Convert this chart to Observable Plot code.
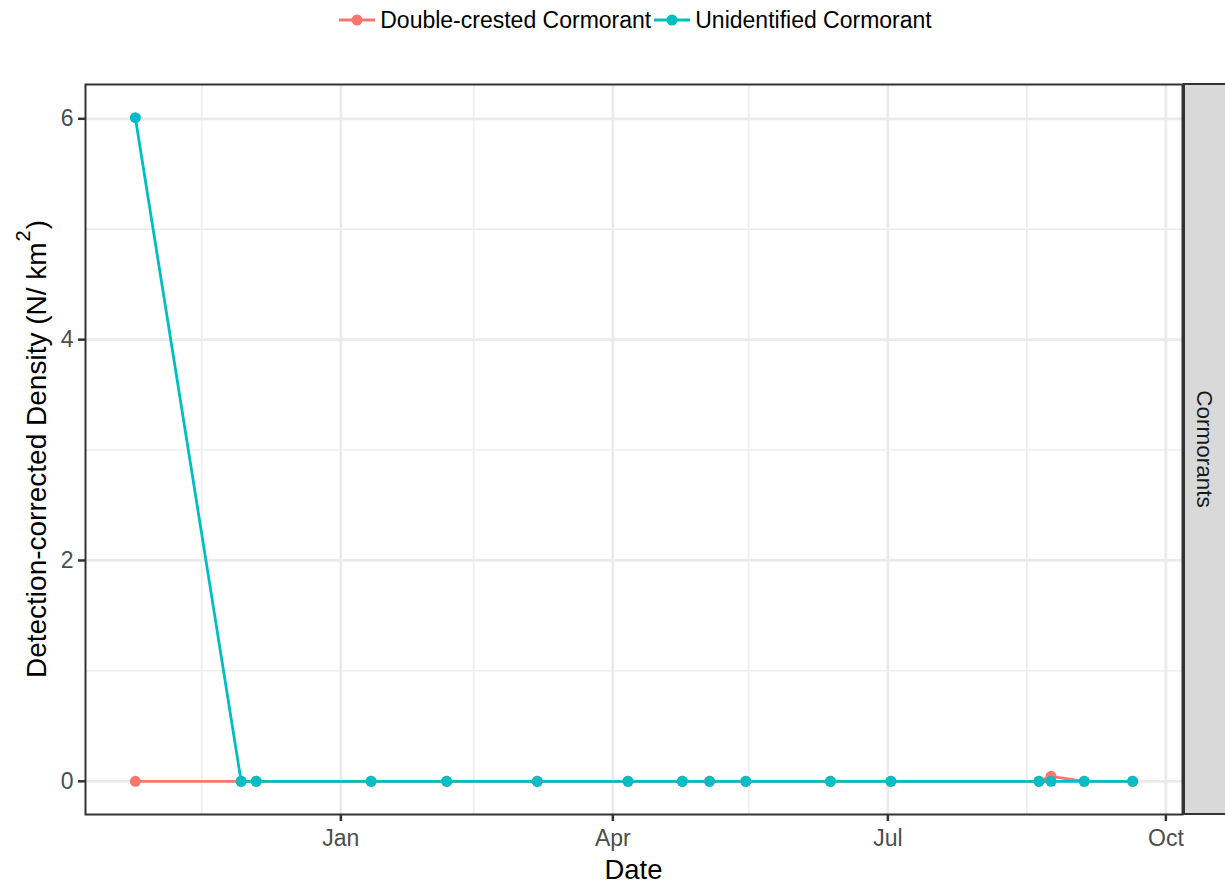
<!DOCTYPE html>
<html>
<head>
<meta charset="utf-8">
<script src="https://cdn.jsdelivr.net/npm/d3@7"></script>
<script src="https://cdn.jsdelivr.net/npm/@observablehq/plot@0.6"></script>
<style>
  body { margin: 0; background: #ffffff; font-family: "Liberation Sans", Arial, sans-serif; }
  #legend { height: 40px; display: flex; justify-content: center; align-items: center; font-size: 23px; color: #000; padding-left: 46px; }
  #legend .item { display: flex; align-items: center; }
  #legend .item svg { margin-right: 5px; }
  #legend .item + .item { margin-left: 3px; }
  #chart svg { display: block; font-family: "Liberation Sans", Arial, sans-serif; }
</style>
</head>
<body>
<div id="legend"></div>
<div id="chart"></div>
<script>
// ---- data ----
const dates = [
  "2014-10-25", "2014-11-29", "2014-12-04", "2015-01-11", "2015-02-05",
  "2015-03-07", "2015-04-06", "2015-04-24", "2015-05-03", "2015-05-15",
  "2015-06-12", "2015-07-02", "2015-08-20", "2015-08-24", "2015-09-04",
  "2015-09-20"
];
const doubleCrested = [0, 0, 0, 0, 0, 0, 0, 0, 0, 0, 0, 0, 0, 0.045, 0, 0];
const unidentified  = [6.01, 0, 0, 0, 0, 0, 0, 0, 0, 0, 0, 0, 0, 0, 0, 0];
const seriesNames = ["Double-crested Cormorant", "Unidentified Cormorant"];
const seriesColors = ["#F8766D", "#00BFC4"];
const xTickDates = ["2015-01-01", "2015-04-01", "2015-07-01", "2015-10-01"];
const xTickLabels = ["Jan", "Apr", "Jul", "Oct"];
const xMinorDates = ["2014-11-16", "2015-02-14", "2015-05-16", "2015-08-16"];
const yTicks = [0, 2, 4, 6];
const yMinorTicks = [1, 3, 5];
const facetLabel = "Cormorants";
const xTitle = "Date";
const yTitle = "Detection-corrected Density (N/ km";

// ---- table ----
const rows = [];
seriesNames.forEach((name, si) => {
  const vals = si === 0 ? doubleCrested : unidentified;
  dates.forEach((d, i) => rows.push({ date: new Date(d), value: vals[i], series: name }));
});

// ggplot-style 5% expansion
const [xmin, xmax] = d3.extent(rows, d => +d.date);
const xpad = (xmax - xmin) * 0.05;
const [ymin, ymax] = d3.extent(rows, d => d.value);
const ypad = (ymax - ymin) * 0.05;

const W = 1225, H = 846;
const mTop = 44, mBottom = 72, mLeft = 85, mRight = 43;
const grid = "#EBEBEB", dark = "#333333", tickText = "#4D4D4D";

const tickDates = xTickDates.map(d => new Date(d));
const minorDates = xMinorDates.map(d => new Date(d));

const chart = Plot.plot({
  width: W, height: H,
  marginTop: mTop, marginBottom: mBottom, marginLeft: mLeft, marginRight: mRight,
  x: { type: "utc", domain: [new Date(xmin - xpad), new Date(xmax + xpad)] },
  y: { domain: [ymin - ypad, ymax + ypad] },
  color: { domain: seriesNames, range: seriesColors },
  marks: [
    Plot.gridX(minorDates, { stroke: grid, strokeOpacity: 1, strokeWidth: 1.35 }),
    Plot.gridY(yMinorTicks, { stroke: grid, strokeOpacity: 1, strokeWidth: 1.35 }),
    Plot.gridX(tickDates, { stroke: grid, strokeOpacity: 1, strokeWidth: 2.7 }),
    Plot.gridY(yTicks, { stroke: grid, strokeOpacity: 1, strokeWidth: 2.7 }),
    Plot.line(rows, { x: "date", y: "value", z: "series", stroke: "series", strokeWidth: 2.8 }),
    Plot.dot(rows, { x: "date", y: "value", fill: "series", r: 5.5, stroke: null }),
    Plot.frame({ stroke: dark, strokeWidth: 2 }),
    Plot.axisX(tickDates, {
      tickSize: 7, tickPadding: 8, strokeWidth: 2.5, stroke: dark, fill: tickText,
      fontSize: 23, label: null,
      tickFormat: d => xTickLabels[tickDates.findIndex(t => +t === +d)]
    }),
    Plot.axisY(yTicks, {
      tickSize: 7, tickPadding: 5, strokeWidth: 2.5, stroke: dark, fill: tickText,
      fontSize: 23, label: null, tickFormat: d => String(d)
    })
  ]
});

document.getElementById("chart").appendChild(chart);

// decorations: facet strip + axis titles
const svg = d3.select(chart);
const plotBottom = H - mBottom, plotRight = W - mRight;
const cy = (mTop + plotBottom) / 2;
const cx = (mLeft + plotRight) / 2;

svg.append("rect")
  .attr("x", plotRight + 2).attr("y", mTop)
  .attr("width", 60).attr("height", plotBottom - mTop)
  .attr("fill", "#D9D9D9").attr("stroke", dark).attr("stroke-width", 2);
svg.append("text")
  .attr("transform", `translate(${plotRight + 22},${cy}) rotate(90)`)
  .attr("text-anchor", "middle").attr("dominant-baseline", "central")
  .attr("font-size", 22.5).attr("fill", "#1A1A1A")
  .text(facetLabel);

svg.append("text")
  .attr("x", cx).attr("y", 839)
  .attr("text-anchor", "middle").attr("font-size", 27.5).attr("fill", "#000")
  .text(xTitle);

const yt = svg.append("text")
  .attr("transform", `translate(46,${cy}) rotate(-90)`)
  .attr("text-anchor", "middle").attr("font-size", 28).attr("fill", "#000");
yt.append("tspan").text(yTitle);
yt.append("tspan").attr("font-size", 20).attr("dy", -16).attr("dx", 1).text("2");
yt.append("tspan").attr("dy", 16).attr("dx", 1).text(")");

// legend
const legend = d3.select("#legend");
seriesNames.forEach((name, i) => {
  const item = legend.append("div").attr("class", "item");
  const s = item.append("svg").attr("width", 36).attr("height", 20);
  s.append("line").attr("x1", 0).attr("x2", 36).attr("y1", 10).attr("y2", 10)
    .attr("stroke", seriesColors[i]).attr("stroke-width", 2.8);
  s.append("circle").attr("cx", 18).attr("cy", 10).attr("r", 5.5).attr("fill", seriesColors[i]);
  item.append("span").text(name);
});
</script>
</body>
</html>
